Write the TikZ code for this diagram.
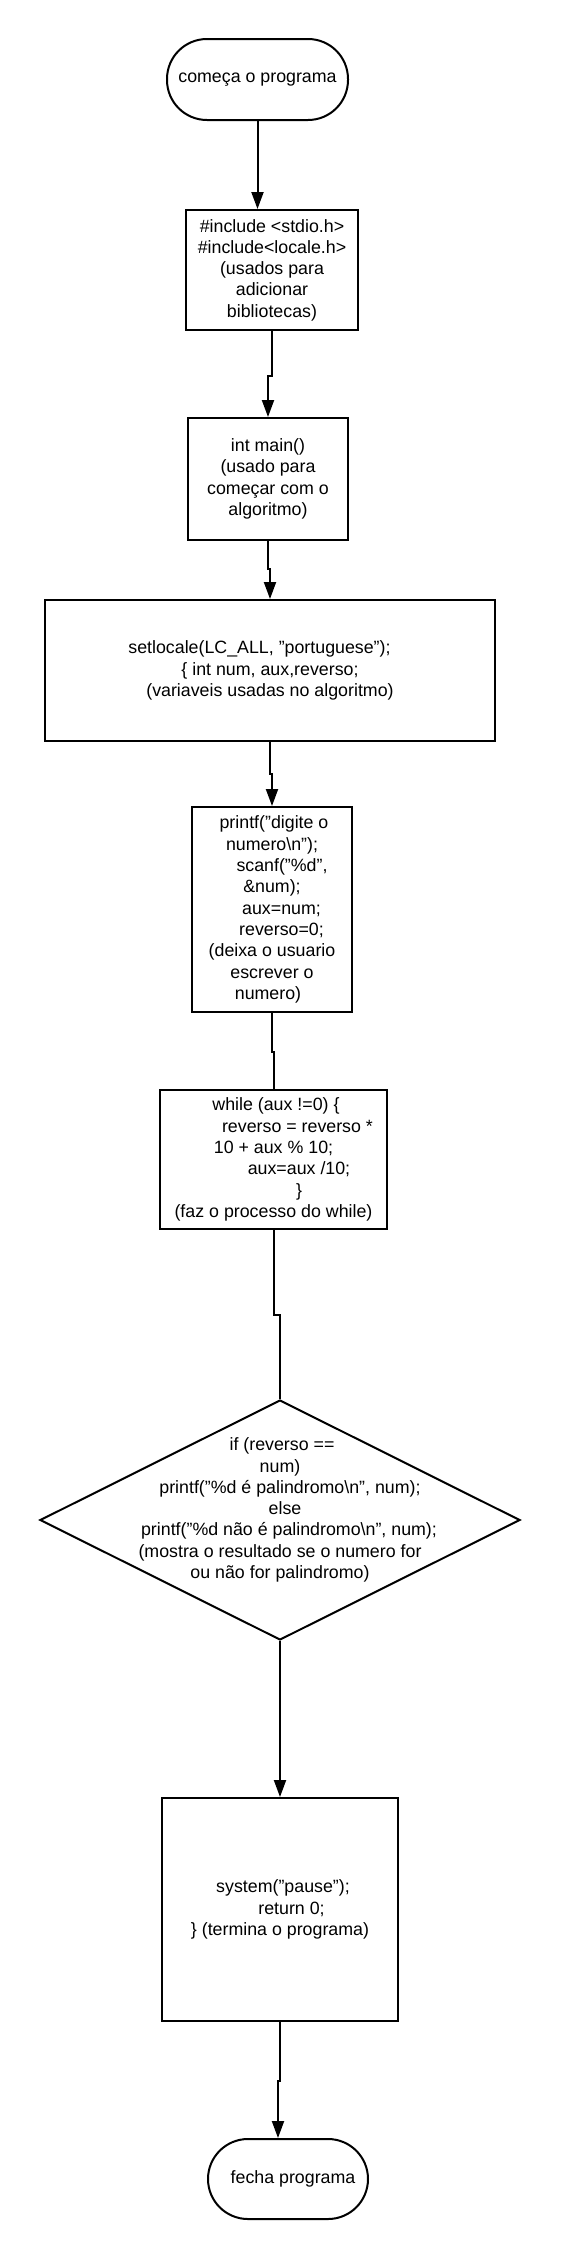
\documentclass[tikz,border=0pt]{standalone}
\usepackage{fontspec}
\setmainfont{Liberation Sans}
\usetikzlibrary{arrows.meta,shapes.geometric}
\begin{document}
\begin{tikzpicture}[x=1pt,y=-1pt,line width=2pt,
		every node/.style={font=\fontsize{17.8}{21.3}\selectfont,align=center,inner sep=4pt},
		terminal/.style={draw,rounded corners=40pt,minimum height=80pt},
		caixa/.style={draw,rectangle},
		decisao/.style={draw,diamond,inner sep=0pt,minimum width=480pt,minimum height=240pt},
		fluxo/.style={-{Triangle[length=17pt,width=12pt]}}]
	\useasboundingbox (0,0) rectangle (560,2260);
	% blocos do fluxograma
	\node[terminal,minimum width=181pt,minimum height=81pt] (inicio) at (257.5,79.5) {começa o programa};
	\node[caixa,minimum width=172pt,minimum height=120pt] (inc) at (272,270)
		{\#include <stdio.h>\\\#include<locale.h>\\(usados para\\adicionar\\bibliotecas)};
	\node[caixa,minimum width=160pt,minimum height=122pt] (main) at (268,479)
		{int main()\\(usado para\\começar com o\\algoritmo)};
	\node[caixa,minimum width=450pt,minimum height=141pt] (vars) at (270,670.5)
		{setlocale(LC\_ALL, "portuguese");\hspace*{21pt}\\\{ int num, aux,reverso;\\(variaveis usadas no algoritmo)};
	\node[caixa,minimum width=160pt,minimum height=205pt] (leitura) at (272,909.5)
		{\hspace*{4pt}printf("digite o\\numero\textbackslash n");\\\hspace*{20pt}scanf("\%d",\\\&num);\\
		\hspace*{19pt}aux=num;\\\hspace*{19pt}reverso=0;\\(deixa o usuario\\escrever o\\numero)\hspace*{8pt}};
	\node[caixa,minimum width=227pt,minimum height=139pt] (laco) at (273.5,1159.5)
		{\hspace*{5pt}while (aux !=0) \{\\\hspace*{48pt}reverso = reverso *\\10 + aux \% 10;\hspace*{12pt}\\
		\hspace*{51pt}aux=aux /10;\\\hspace*{51pt}\}\\(faz o processo do while)};
	\node[decisao] (teste) at (280,1520) {};
	\node (testetxt) at (280,1510)
		{\hspace*{4pt}if (reverso ==\\num)\\\hspace*{20pt}printf("\%d é palindromo\textbackslash n", num);\\\hspace*{10pt}else\\
		\hspace*{18pt}printf("\%d não é palindromo\textbackslash n", num);\\(mostra o resultado se o numero for\\ou não for palindromo)};
	\node[caixa,minimum width=236pt,minimum height=223pt] (fim) at (280,1909.5)
		{\hspace*{6pt}system("pause");\\\hspace*{23pt}return 0;\\\} (termina o programa)};
	\node[terminal,minimum width=160pt] (fecha) at (288,2179) {\hspace*{10pt}fecha programa};
	% ligacoes
	\draw[fluxo] (inicio.south) -- (inicio.south |- inc.north);
	\draw[fluxo] (inc.south) -- ++(0,45) -| (main.north);
	\draw[fluxo] (main.south) -- ++(0,28) -| (vars.north);
	\draw[fluxo] (vars.south) -- ++(0,32) -| (leitura.north);
	\draw (leitura.south) -- ++(0,39) -| (laco.north);
	\draw (laco.south) -- ++(0,85) -| (teste.north);
	\draw[fluxo] (teste.south) -- (fim.north);
	\draw[fluxo] (fim.south) -- ++(0,59) -| ([xshift=-10pt]fecha.north);
\end{tikzpicture}
\end{document}
